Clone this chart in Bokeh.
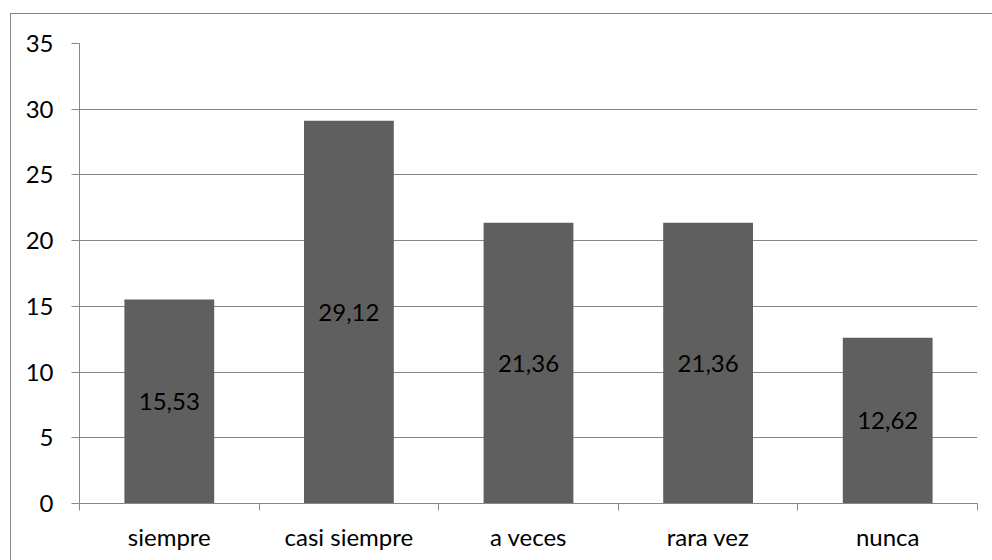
from bokeh.plotting import figure
from bokeh.models import (Range1d, LinearAxis, FixedTicker, ColumnDataSource)
from bokeh.core.properties import value
from bokeh.embed import file_html
from bokeh.resources import INLINE

categories = ["siempre", "casi siempre", "a veces", "rara vez", "nunca"]
values = [15.53, 29.12, 21.36, 21.36, 12.62]
y_ticks = [0, 5, 10, 15, 20, 25, 30, 35]

FONT = "Lato"
FS = "24px"
GRID = "#878787"
BAR = "#5f5f5f"

n = len(categories)
centers = [i + 0.5 for i in range(n)]
edges = list(range(n + 1))

src = ColumnDataSource(dict(
    x=centers,
    val=values,
    mid=[v / 2 for v in values],
    lab=[f"{v:.2f}".replace(".", ",") for v in values],
))

p = figure(width=982, height=547,
           x_range=Range1d(0, n),
           y_range=Range1d(0, 35),
           output_backend="svg", toolbar_location=None,
           x_axis_location=None, y_axis_location="left",
           min_border_left=68, min_border_right=16,
           min_border_top=29, min_border_bottom=58)

p.styles = {"border-left": "1px solid #878787", "border-top": "1px solid #878787"}
p.margin = (13, 0, 0, 10)

p.outline_line_color = None
p.background_fill_color = "white"
p.border_fill_color = "white"

p.xgrid.grid_line_color = None
p.ygrid.ticker = FixedTicker(ticks=y_ticks, minor_ticks=[])
p.ygrid.grid_line_color = GRID

ya = p.yaxis[0]
ya.ticker = FixedTicker(ticks=y_ticks, minor_ticks=[])
ya.axis_line_color = GRID
ya.major_tick_line_color = GRID
ya.minor_tick_line_color = None
ya.major_tick_in = 0
ya.major_tick_out = 8
ya.major_label_standoff = 18
ya.major_label_text_font = FONT
ya.major_label_text_font_size = FS
ya.major_label_text_color = "black"

# labels at category centres; boundary tick marks drawn as minor ticks
cat_axis = LinearAxis(ticker=FixedTicker(ticks=centers, minor_ticks=edges),
                      major_label_overrides={c: lab for c, lab in zip(centers, categories)},
                      major_tick_line_color=None, axis_line_color=GRID,
                      minor_tick_line_color=GRID, minor_tick_in=0, minor_tick_out=7,
                      major_tick_in=0, major_tick_out=0,
                      major_label_text_font=FONT, major_label_text_font_size=FS,
                      major_label_text_color="black", major_label_standoff=11)
p.add_layout(cat_axis, "below")

p.vbar(x="x", top="val", bottom=0, width=0.5, source=src,
       fill_color=BAR, line_color=None)
p.text(x="x", y="mid", text="lab", source=src,
       text_align="center", text_baseline="middle",
       text_font=value(FONT), text_font_size=FS, text_color="black")

open("out.html", "w").write(file_html(p, INLINE))
